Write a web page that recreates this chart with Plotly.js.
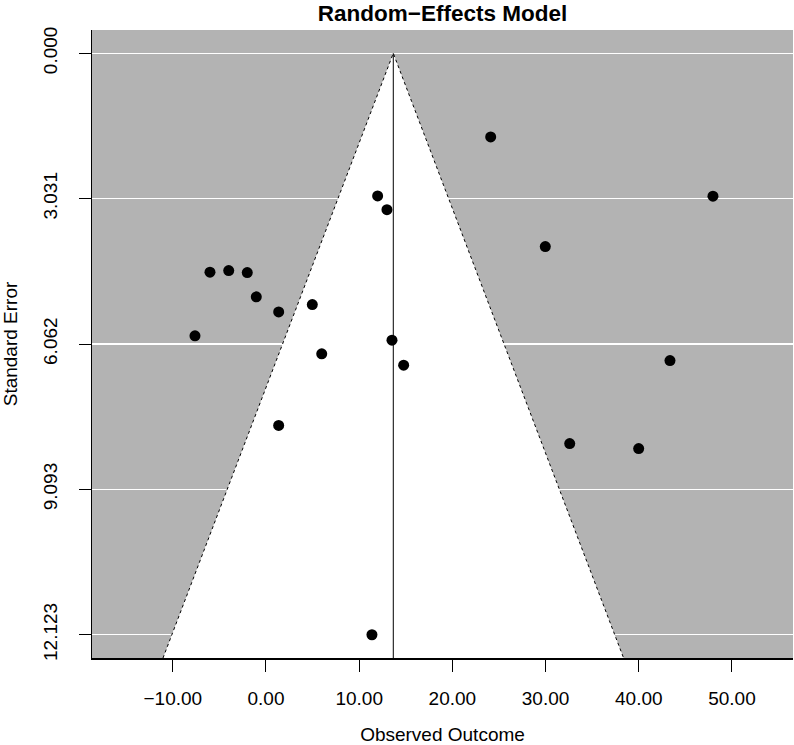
<!DOCTYPE html>
<html>
<head>
<meta charset="utf-8">
<script src="https://cdn.plot.ly/plotly-3.0.1.min.js"></script>
<style>html,body{margin:0;padding:0;background:#fff;}#chart{width:794px;height:745px;}</style>
</head>
<body>
<div id="chart"></div>
<script>
// Observed outcomes (effect sizes) and their standard errors
const observedOutcome = [11.98, 12.98, -6.01, -4.00, -2.01, -1.04, 1.36, 4.97, -7.62, 13.52,
                         5.98, 14.77, 24.11, 47.96, 29.97, 43.35, 32.59, 39.99, 1.36, 11.37];
const standardError   = [2.974, 3.26, 4.564, 4.531, 4.573, 5.079, 5.392, 5.24, 5.892, 5.982,
                         6.267, 6.503, 1.744, 2.98, 4.031, 6.407, 8.137, 8.241, 7.76, 12.123];
const pooledEstimate = 13.66;
const yTickVals = [0, 3.031, 6.062, 9.093, 12.123];
const yTickText = ["0.000", "3.031", "6.062", "9.093", "12.123"];
const xTickVals = [-10, 0, 10, 20, 30, 40, 50];
const xTickText = ["\u221210.00", "0.00", "10.00", "20.00", "30.00", "40.00", "50.00"];

const maxSE = Math.max(...standardError);
const yBottom = maxSE * 1.04;
const yTop = -maxSE * 0.04;
const z = 1.96;

const font = "Liberation Sans, Arial, Helvetica, sans-serif";

const funnel = {
  x: [pooledEstimate - z * yBottom, pooledEstimate, pooledEstimate + z * yBottom],
  y: [yBottom, 0, yBottom],
  mode: "lines",
  fill: "toself",
  fillcolor: "#ffffff",
  line: {color: "#000000", width: 1, dash: "dot"},
  hoverinfo: "skip",
  showlegend: false
};
const refLine = {
  x: [pooledEstimate, pooledEstimate],
  y: [0, yBottom],
  mode: "lines",
  line: {color: "#000000", width: 1},
  hoverinfo: "skip",
  showlegend: false
};
const pts = {
  x: observedOutcome,
  y: standardError,
  mode: "markers",
  marker: {color: "#000000", size: 11},
  showlegend: false
};

const layout = {
  width: 794, height: 745,
  margin: {l: 92, r: 1, t: 30, b: 87},
  paper_bgcolor: "#ffffff",
  plot_bgcolor: "#b3b3b3",
  font: {family: font, size: 19, color: "#000000"},
  title: {text: "<b>Random\u2212Effects Model</b>", font: {family: font, size: 22.5, color: "#000"},
          xref: "paper", x: 0.5, xanchor: "center", yref: "container", y: 0.982, yanchor: "middle"},
  xaxis: {
    range: [-18.67, 56.55],
    tickmode: "array", tickvals: xTickVals, ticktext: xTickText,
    ticks: "outside", ticklen: 12, tickwidth: 1, tickcolor: "#000",
    ticklabelstandoff: 11,
    showline: true, linecolor: "#000", linewidth: 1.5, mirror: false,
    showgrid: false, zeroline: false,
    tickfont: {family: font, size: 19},
    title: {text: "Observed Outcome", font: {family: font, size: 19}, standoff: 28},
    automargin: false, fixedrange: true
  },
  yaxis: {
    range: [yBottom, yTop],
    tickmode: "array", tickvals: yTickVals, ticktext: yTickText,
    tickangle: -90,
    ticks: "outside", ticklen: 12, tickwidth: 1, tickcolor: "#000",
    ticklabelstandoff: 14,
    showline: true, linecolor: "#000", linewidth: 1.5, mirror: false,
    showgrid: true, gridcolor: "#ffffff", gridwidth: 1.3,
    zeroline: false,
    tickfont: {family: font, size: 19},
    title: {text: "Standard Error", font: {family: font, size: 19}, standoff: 28},
    automargin: false, fixedrange: true
  },
  showlegend: false
};

Plotly.newPlot("chart", [funnel, refLine, pts], layout, {displayModeBar: false, staticPlot: true});
</script>
</body>
</html>
